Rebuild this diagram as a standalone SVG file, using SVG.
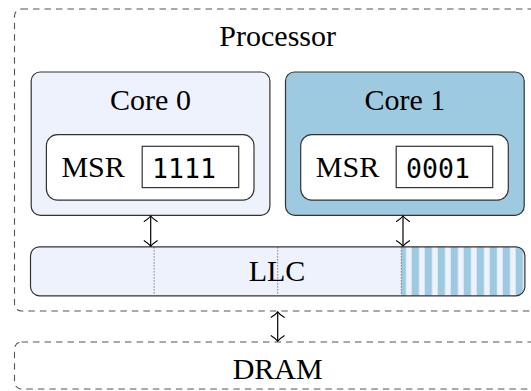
<svg xmlns="http://www.w3.org/2000/svg" width="531" height="391" viewBox="0 0 531 391">
  <style>
    .lbl { font-family: "Liberation Serif", "Times New Roman", serif; font-size: 30px; fill: #000; text-anchor: middle; }
    .mono { font-family: "DejaVu Sans Mono", "Liberation Mono", monospace; font-size: 26.5px; fill: #000; text-anchor: middle; }
    .dash { fill: none; stroke: #555; stroke-width: 1.1; stroke-dasharray: 6.5 5; }
    .box { stroke: #333; stroke-width: 1.2; }
    .light { fill: #EEF2FD; }
    .blue { fill: #9ECAE1; }
    .white { fill: #fff; }
    .sep { stroke: #333; stroke-width: 0.9; stroke-dasharray: 1 2; }
    .link { stroke: #000; stroke-width: 1.2; fill: none; marker-start: url(#head); marker-end: url(#head); }
  </style>
  <defs>
    <marker id="head" markerUnits="userSpaceOnUse" viewBox="-8 -8 10 16" refX="0" refY="0" markerWidth="10" markerHeight="16" orient="auto-start-reverse" overflow="visible">
      <path d="M-5.5,-6.5 C-3,-2.5 -0.8,-0.6 0,0 C-0.8,0.6 -3,2.5 -5.5,6.5" fill="none" stroke="#000" stroke-width="1.1" stroke-linecap="round"/>
    </marker>
    <pattern id="stripes" patternUnits="userSpaceOnUse" x="398.7" y="0" width="13" height="20">
      <rect x="0" y="0" width="13" height="20" fill="#EEF2FD"/>
      <rect x="0" y="0" width="7.3" height="20" fill="#9ECAE1"/>
    </pattern>
    <clipPath id="llc-clip">
      <rect x="30.5" y="246.8" width="494.4" height="49" rx="9"/>
    </clipPath>
  </defs>

  <!-- processor package -->
  <g id="processor">
    <rect class="dash" x="14.5" y="9" width="527" height="302" rx="7"/>
    <text class="lbl" x="277.7" y="45.5">Processor</text>
  </g>

  <!-- core 0 -->
  <g id="core0">
    <rect class="box light" x="31.2" y="72" width="238.7" height="143.3" rx="9"/>
    <text class="lbl" x="150.5" y="110">Core 0</text>
    <g id="msr0">
      <rect class="box white" x="46.4" y="134.7" width="207.6" height="65.4" rx="11"/>
      <text class="lbl" x="93.1" y="177.4">MSR</text>
      <rect class="box white" x="142.2" y="146.3" width="96.5" height="41.3"/>
      <text class="mono" x="184" y="178">1111</text>
    </g>
  </g>

  <!-- core 1 -->
  <g id="core1">
    <rect class="box blue" x="285.5" y="72" width="238.7" height="143.3" rx="9"/>
    <text class="lbl" x="404.9" y="110">Core 1</text>
    <g id="msr1">
      <rect class="box white" x="300.7" y="134.7" width="207.6" height="65.4" rx="11"/>
      <text class="lbl" x="347.5" y="177.4">MSR</text>
      <rect class="box white" x="396.2" y="146.3" width="96.5" height="41.3"/>
      <text class="mono" x="438" y="178">0001</text>
    </g>
  </g>

  <!-- last level cache, split in four ways; the last one is reserved -->
  <g id="llc">
    <rect class="light" x="30.5" y="246.8" width="494.4" height="49" rx="9"/>
    <rect x="401.3" y="240" width="130" height="60" fill="url(#stripes)" clip-path="url(#llc-clip)"/>
    <line class="sep" x1="154.1" y1="247.4" x2="154.1" y2="295.2" stroke="#777"/>
    <line class="sep" x1="277.7" y1="247.4" x2="277.7" y2="295.2"/>
    <line class="sep" x1="401.3" y1="247.4" x2="401.3" y2="295.2"/>
    <rect class="box" fill="none" x="30.5" y="246.8" width="494.4" height="49" rx="9"/>
    <text class="lbl" x="277" y="281.3">LLC</text>
  </g>

  <!-- main memory -->
  <g id="dram">
    <rect class="dash" x="14.5" y="342" width="527" height="47" rx="7"/>
    <text class="lbl" x="277.7" y="378.5">DRAM</text>
  </g>

  <!-- connectors -->
  <g id="connectors">
    <line class="link" x1="150.7" y1="216" x2="150.7" y2="246.2"/>
    <line class="link" x1="403" y1="216" x2="403" y2="246.2"/>
    <line class="link" x1="277.7" y1="311.8" x2="277.7" y2="341.2"/>
  </g>
</svg>
